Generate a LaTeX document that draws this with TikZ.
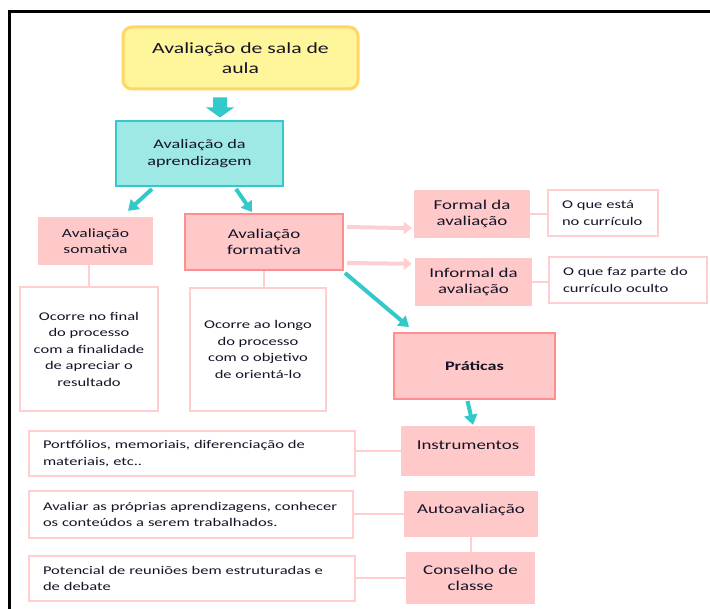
\documentclass[tikz,border=0pt]{standalone}
\usepackage{fontspec}
\setmainfont{Carlito}[FakeStretch=1.4]
\usetikzlibrary{arrows.meta,calc}
\definecolor{txt}{HTML}{141428}
\definecolor{yelfill}{HTML}{FFF59A}
\definecolor{yelline}{HTML}{FFD766}
\definecolor{tealc}{HTML}{33C9CB}
\definecolor{tealfill}{HTML}{9EE8E5}
\definecolor{pinkfill}{HTML}{FFC9C9}
\definecolor{pinkstrong}{HTML}{FF8E8E}
\definecolor{pinklite}{HTML}{FFCFCF}
\begin{document}
\begin{tikzpicture}[x=1pt,y=-1pt,
  every node/.style={inner sep=0pt, text=txt},
  yelbox/.style={draw=yelline, line width=3pt, fill=yelfill, rounded corners=9pt, font=\fontsize{15.5}{20}\selectfont, align=center},
  tealbox/.style={draw=tealc, line width=2pt, fill=tealfill, font=\fontsize{13}{17}\selectfont, align=center},
  pinkbox/.style={fill=pinkfill, font=\fontsize{13.5}{16.5}\selectfont, align=center},
  strongbox/.style={pinkbox, draw=pinkstrong, line width=2pt},
  whitebox/.style={draw=pinklite, line width=2.5pt, fill=white, font=\fontsize{11.8}{16.5}\selectfont},
  tealarrow/.style={draw=tealc, line width=4pt, -{Triangle[width=13pt,length=10pt]}},
  pinkarrow/.style={draw=pinklite, line width=4pt, -{Triangle[width=12pt,length=8pt]}},
  linkline/.style={draw=pinklite, line width=2.5pt}
]
\useasboundingbox (0,0) rectangle (710,609);
\clip (0,0) rectangle (710,609);
\fill[white] (0,0) rectangle (710,609);
% frame
\draw[line width=3pt] (9.5,640) -- (9.5,12) -- (740,12);

% nodes
\node[yelbox, minimum width=235, minimum height=62] (top) at (240.5,58) {Avaliação de sala de\\aula};
\node[tealbox, minimum width=167, minimum height=65] (aprend) at (199.5,153.5) {Avaliação da\\aprendizagem};
\node[pinkbox, font=\fontsize{12.5}{16}\selectfont, minimum width=115, minimum height=48] (soma) at (95.5,241) {Avaliação\\somativa};
\node[strongbox, minimum width=158, minimum height=56] (forma) at (264,242) {Avaliação\\formativa};
\node[whitebox, align=center, minimum width=138, minimum height=124] (final) at (89,349) {Ocorre no final\\do processo\\com a finalidade\\de apreciar o\\resultado};
\node[whitebox, align=center, minimum width=136, minimum height=123] (longo) at (258,349.5) {Ocorre ao longo\\do processo\\com o objetivo\\de orientá-lo};
\node[pinkbox, minimum width=116, minimum height=48] (formal) at (472,214) {Formal da\\avaliação};
\node[whitebox, minimum width=110, minimum height=46, text width=82, align=left] (esta) at (603,213) {\mbox{O que está}\\\mbox{no currículo}};
\node[pinkbox, minimum width=117, minimum height=48] (informal) at (473.5,282) {Informal da\\avaliação};
\node[whitebox, minimum width=158, minimum height=46, text width=130, align=left] (faz) at (628,280) {\mbox{O que faz parte do}\\\mbox{currículo oculto}};
\node[strongbox, font=\fontsize{13}{16}\selectfont\bfseries, minimum width=161, minimum height=66] (prat) at (474.5,366) {Práticas};
\node[pinkbox, text depth=11pt, minimum width=134, minimum height=50] (instr) at (468,451) {Instrumentos};
\node[pinkbox, text depth=11pt, minimum width=134, minimum height=46] (auto) at (471,514) {Autoavaliação};
\node[pinkbox, minimum width=129, minimum height=52] (cons) at (470.5,578) {Conselho de\\classe};
\node[whitebox, minimum width=326, minimum height=45, text width=298, align=left] (portf) at (192,453.5) {\mbox{Portfólios, memoriais, diferenciação de}\\\mbox{materiais, etc..}};
\node[whitebox, minimum width=324, minimum height=47, text width=296, align=left] (avaliar) at (191,514.5) {\mbox{Avaliar as próprias aprendizagens, conhecer}\\\mbox{os conteúdos a serem trabalhados.}};
\node[whitebox, minimum width=326, minimum height=45, text width=298, align=left] (potenc) at (192,578.5) {\mbox{Potencial de reuniões bem estruturadas e}\\\mbox{de debate}};

% block arrow from top to aprend
\fill[tealc] ($(top.south)+(-27.5,7)$) -- ++(14,0) -- ++(0,10) -- ++(7,0) -- ++(-14,10) -- ++(-14,-10) -- ++(7,0) -- cycle;

% teal arrows
\draw[tealarrow] ($(aprend.south west)+(37,2)$) -- ($(soma.north)+(32.5,-6)$);
\draw[tealarrow] ($(aprend.south east)+(-48,2)$) -- ($(forma.north)+(-12,-1)$);
\draw[tealarrow] ($(forma.south east)+(1,2)$) -- ($(prat.north west)+(16,-5)$);
\draw[tealarrow] ($(prat.south)+(-7,1)$) -- ($(instr.north)+(5,-1)$);

% pink arrows
\draw[pinkarrow] ($(forma.north east)+(3,14)$) -- ($(formal.south west)+(-2,-10)$);
\draw[pinkarrow] ($(forma.north east)+(3,50)$) -- ($(informal.north west)+(-3,6)$);

% pink link lines
\draw[linkline] (formal.east) -- (formal.east -| esta.west);
\draw[linkline] (informal.east) -- (informal.east -| faz.west);
\draw[linkline] (final.north) -- (final.north |- soma.south);
\draw[linkline] (forma.south) -- (forma.south |- longo.north);
\draw[linkline] ($(instr.south)+(5,0)$) -- ($(instr.south)+(5,0)$ |- auto.north);
\draw[linkline] (auto.south) -- (auto.south |- cons.north);
\draw[linkline] (instr.west) -- (instr.west -| portf.east);
\draw[linkline] (auto.west) -- (auto.west -| avaliar.east);
\draw[linkline] (cons.west) -- (cons.west -| potenc.east);
\end{tikzpicture}
\end{document}
